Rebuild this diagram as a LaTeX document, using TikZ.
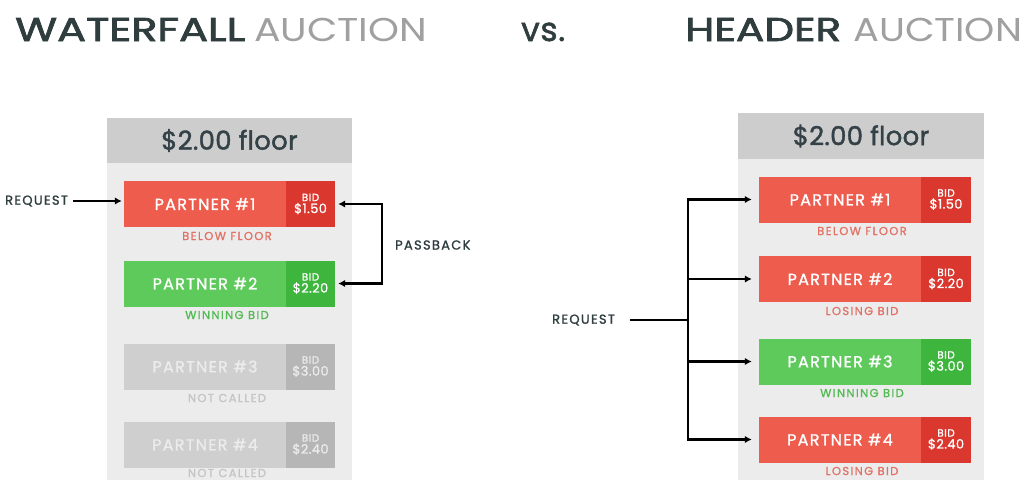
\documentclass[tikz,border=0pt]{standalone}
\usepackage{fontspec}
\setmainfont{Poppins}
\usetikzlibrary{arrows.meta}
\definecolor{tdark}{RGB}{47,61,63}
\definecolor{tgray}{RGB}{160,160,160}
\definecolor{panelbg}{RGB}{236,236,236}
\definecolor{hdrbg}{RGB}{205,205,205}
\definecolor{hdrtext}{RGB}{52,66,72}
\definecolor{pred}{RGB}{238,92,78}
\definecolor{pbidred}{RGB}{218,56,46}
\definecolor{pgreen}{RGB}{94,202,92}
\definecolor{pbidgreen}{RGB}{62,182,62}
\definecolor{pgray}{RGB}{207,207,207}
\definecolor{pbidgray}{RGB}{182,182,182}
\definecolor{graytext}{RGB}{236,236,236}
\definecolor{sred}{RGB}{226,112,100}
\definecolor{sgreen}{RGB}{82,186,82}
\definecolor{sgray}{RGB}{196,196,196}
\newcommand{\fx}[2]{\addfontfeatures{LetterSpace=#1,FakeBold=#2}}
\newcommand{\wide}[2]{\resizebox{#1pt}{\height}{#2}}
\newcommand{\bidtxt}[1]{{\fontsize{10.5}{15}\selectfont\fx{5}{0.6}BID}\\{\fontsize{13}{15}\selectfont\fx{3}{1}\$#1}}
\begin{document}
\begin{tikzpicture}[x=1pt,y=-1pt,
  title/.style={anchor=base west,inner sep=0,font=\fontsize{33}{40}\selectfont,text=tdark},
  hdr/.style={fill=hdrbg,inner sep=0,text=hdrtext,font=\fontsize{26}{28}\selectfont\fx{1}{1.5}},
  body/.style={rectangle,inner sep=0,minimum height=46,minimum width=162,text=white,font=\fontsize{16}{18}\selectfont\fx{8}{1.2}},
  bid/.style={rectangle,inner sep=0,minimum height=46,minimum width=49,text=white,align=center},
  status/.style={inner sep=0,font=\fontsize{11.5}{12}\selectfont\fx{12}{1}},
  req/.style={inner sep=0,text=tdark,font=\fontsize{13}{14}\selectfont\fx{10}{1.2}},
  line/.style={line width=2.2pt,black},
  conn/.style={line width=2.2pt,black,-{Latex[length=7pt,width=7.5pt]}}
]
\useasboundingbox (0,0) rectangle (1027,480);
\fill[white] (0,0) rectangle (1027,480);

% titles
\node[title] (t1a) at (15,41) {\wide{230}{\fx{0}{2}WATERFALL}};
\node[title,text=tgray] (t1b) at (254,41) {\wide{173}{\fx{0}{0}AUCTION}};
\node[title] (vs) at (521,41) {\fx{2}{1.5}vs.};
\node[title] (t2a) at (685,41) {\wide{156}{\fx{0}{2}HEADER}};
\node[title,text=tgray] (t2b) at (853,41) {\wide{169}{\fx{0}{0}AUCTION}};

% ---------------- left panel ----------------
\fill[panelbg] (107,163) rectangle (352,480);
\node[hdr,minimum width=245,minimum height=45] (hl) at (229.5,140.5) {\$2.00 floor};

\node[body,fill=pred] (l1) at (205,204) {PARTNER \#1};
\node[bid,fill=pbidred] (lb1) at (310.5,204) {\bidtxt{1.50}};
\node[status,text=sred] (ls1) at (227,236) {BELOW FLOOR};

\node[body,fill=pgreen] (l2) at (205,283.5) {PARTNER \#2};
\node[bid,fill=pbidgreen] (lb2) at (310.5,283.5) {\bidtxt{2.20}};
\node[status,text=sgreen] (ls2) at (227,315) {WINNING BID};

\node[body,fill=pgray,text=graytext] (l3) at (205,366.5) {PARTNER \#3};
\node[bid,fill=pbidgray,text=graytext] (lb3) at (310.5,366.5) {\bidtxt{3.00}};
\node[status,text=sgray] (ls3) at (227,398) {NOT CALLED};

\node[body,fill=pgray,text=graytext] (l4) at (205,444.5) {PARTNER \#4};
\node[bid,fill=pbidgray,text=graytext] (lb4) at (310.5,444.5) {\bidtxt{2.40}};
\node[status,text=sgray] (ls4) at (227,473) {NOT CALLED};

\node[req,anchor=west] (reqL) at (5,201) {REQUEST};
\draw[conn,shorten <=5pt,shorten >=2pt] (reqL.east) -- (reqL.east -| l1.west);

\draw[line,{Latex[length=7pt,width=7.5pt]}-{Latex[length=7pt,width=7.5pt]},shorten <=3pt,shorten >=3pt]
  (lb1.east) -- ++(47,0) |- (lb2.east);
\node[req,anchor=west] (pb) at (395,245) {PASSBACK};

% ---------------- right panel ----------------
\fill[panelbg] (738,159) rectangle (984,480);
\node[hdr,minimum width=246,minimum height=46] (hr) at (861,136) {\$2.00 floor};

\node[body,fill=pred] (r1) at (840,199.5) {PARTNER \#1};
\node[bid,fill=pbidred,minimum width=50] (rb1) at (946,199.5) {\bidtxt{1.50}};
\node[status,text=sred] (rs1) at (862,231) {BELOW FLOOR};

\node[body,fill=pred] (r2) at (840,279) {PARTNER \#2};
\node[bid,fill=pbidred,minimum width=50] (rb2) at (946,279) {\bidtxt{2.20}};
\node[status,text=sred] (rs2) at (862,311) {LOSING BID};

\node[body,fill=pgreen] (r3) at (840,361.5) {PARTNER \#3};
\node[bid,fill=pbidgreen,minimum width=50] (rb3) at (946,361.5) {\bidtxt{3.00}};
\node[status,text=sgreen] (rs3) at (862,393) {WINNING BID};

\node[body,fill=pred] (r4) at (840,439.5) {PARTNER \#4};
\node[bid,fill=pbidred,minimum width=50] (rb4) at (946,439.5) {\bidtxt{2.40}};
\node[status,text=sred] (rs4) at (862,471) {LOSING BID};

\node[req,anchor=west] (reqR) at (552,320) {REQUEST};
\coordinate (tr) at (688,320);
\draw[line,shorten <=15pt] (reqR.east) -- (tr);
\draw[line,line cap=rect] (tr |- r1.west) -- (tr |- r4.west);
\foreach \n in {r1,r2,r3,r4}
  \draw[conn,shorten >=7pt] (tr |- \n.west) -- (\n.west);
\end{tikzpicture}
\end{document}
